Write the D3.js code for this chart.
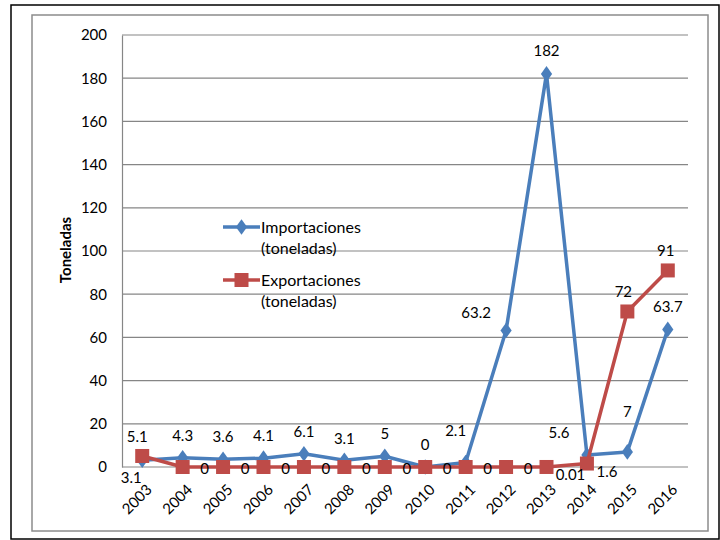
<!DOCTYPE html>
<html>
<head>
<meta charset="utf-8">
<script src="https://cdn.jsdelivr.net/npm/d3@7"></script>
<style>
  html, body { margin: 0; padding: 0; background: #fff; }
  svg { display: block; }
  text { font-family: Lato, "Open Sans", sans-serif; fill: #000; }
</style>
</head>
<body>
<svg id="chart" width="720" height="540"></svg>
<script>
// Años y series (toneladas)
const years = ["2003","2004","2005","2006","2007","2008","2009","2010","2011","2012","2013","2014","2015","2016"];
const importaciones = [3.1, 4.3, 3.6, 4.1, 6.1, 3.1, 5, 0, 2.1, 63.2, 182, 5.6, 7, 63.7];
const exportaciones = [5.1, 0, 0, 0, 0, 0, 0, 0, 0, 0, 0.01, 1.6, 72, 91];
const yTicks = [0, 20, 40, 60, 80, 100, 120, 140, 160, 180, 200];
const seriesNames = [["Importaciones", "(toneladas)"], ["Exportaciones", "(toneladas)"]];

// Label placement for each point: [dx, dy] relative to the marker
const impLabelOffset = [[-11, 17], [0, -22], [0, -22], [0, -22], [0, -22], [0, -22], [0, -22],
                        [0, -22], [-10, -32], [-30, -18], [0, -23], [-28, -22], [0, -40], [0, -23]];
const expLabelOffset = [[-5, -19], [22, 2], [22, 2], [22, 2], [22, 2], [22, 2], [22, 2],
                        [22, 2], [22, 2], [22, 2], [24, 8], [20, 8], [-4, -20], [-2, -20]];

const svg = d3.select("#chart");
const margin = { left: 122, right: 688, top: 35, bottom: 467 };

const x = d3.scaleBand().domain(years).range([margin.left, margin.right]);
const y = d3.scaleLinear().domain([0, 200]).range([margin.bottom, margin.top]);
const cx = d => x(d) + x.bandwidth() / 2;

// Outer frames
svg.append("rect").attr("x", 11).attr("y", 5).attr("width", 708).attr("height", 534)
  .attr("fill", "none").attr("stroke", "#000").attr("stroke-width", 1.5);
svg.append("rect").attr("x", 32).attr("y", 15).attr("width", 676).attr("height", 516)
  .attr("fill", "none").attr("stroke", "#8c8c8c").attr("stroke-width", 1.5);

// Gridlines
svg.append("g").selectAll("line").data(yTicks).join("line")
  .attr("x1", margin.left).attr("x2", margin.right)
  .attr("y1", d => y(d)).attr("y2", d => y(d))
  .attr("stroke", "#868686").attr("stroke-width", 1.2);

// Y axis
const yAxis = d3.axisLeft(y).tickValues(yTicks).tickSize(0).tickPadding(15);
const gy = svg.append("g").attr("transform", `translate(${margin.left},0)`).call(yAxis);
gy.select(".domain").attr("stroke", "#868686").attr("stroke-width", 1.2);
gy.selectAll("text").style("font-size", "15px").style("font-family", "Lato, sans-serif").attr("fill", "#000");

// X axis labels, rotated
const xAxis = d3.axisBottom(x).tickSize(0).tickPadding(0);
const gx = svg.append("g").attr("transform", `translate(0,${margin.bottom})`).call(xAxis);
gx.select(".domain").remove();
gx.selectAll("text")
  .style("font-size", "15px").style("font-family", "Lato, sans-serif").attr("fill", "#000")
  .attr("text-anchor", "end")
  .attr("dy", "0.35em")
  .attr("transform", "translate(7,20) rotate(-45)");

// Y axis title
svg.append("text")
  .attr("transform", "translate(71,250) rotate(-90)")
  .attr("text-anchor", "middle")
  .style("font-size", "15px").style("font-weight", "bold")
  .text("Toneladas");

const blue = "#4a7ebb", red = "#be4b48";
const line = d3.line().x((d, i) => cx(years[i])).y(d => y(d));

// Import series
svg.append("path").datum(importaciones).attr("d", line)
  .attr("fill", "none").attr("stroke", blue).attr("stroke-width", 3.5).attr("stroke-linejoin", "round");
const diamond = d3.symbol().type(d3.symbolDiamond).size(70);
svg.append("g").selectAll("path").data(importaciones).join("path")
  .attr("d", diamond)
  .attr("transform", (d, i) => `translate(${cx(years[i])},${y(d)}) scale(1.25,1)`)
  .attr("fill", blue);

// Export series
svg.append("path").datum(exportaciones).attr("d", line)
  .attr("fill", "none").attr("stroke", red).attr("stroke-width", 3.5).attr("stroke-linejoin", "round");
svg.append("g").selectAll("rect").data(exportaciones).join("rect")
  .attr("x", (d, i) => cx(years[i]) - 7).attr("y", d => y(d) - 7)
  .attr("width", 14).attr("height", 14)
  .attr("fill", red);

// Data labels
const labelFmt = v => String(v);
svg.append("g").selectAll("text").data(importaciones).join("text")
  .attr("x", (d, i) => cx(years[i]) + impLabelOffset[i][0])
  .attr("y", (d, i) => y(d) + impLabelOffset[i][1])
  .attr("text-anchor", "middle").attr("dy", "0.35em")
  .style("font-size", "15px")
  .text(labelFmt);
svg.append("g").selectAll("text").data(exportaciones).join("text")
  .attr("x", (d, i) => cx(years[i]) + expLabelOffset[i][0])
  .attr("y", (d, i) => y(d) + expLabelOffset[i][1])
  .attr("text-anchor", "middle").attr("dy", "0.35em")
  .style("font-size", "15px")
  .text(labelFmt);

// Legend
const legend = svg.append("g");
const legendRows = [
  { name: seriesNames[0], color: blue, marker: "diamond", y: 227 },
  { name: seriesNames[1], color: red, marker: "square", y: 280 }
];
legendRows.forEach(r => {
  legend.append("line").attr("x1", 223).attr("x2", 260).attr("y1", r.y).attr("y2", r.y)
    .attr("stroke", r.color).attr("stroke-width", 3.5);
  if (r.marker === "diamond") {
    legend.append("path").attr("d", diamond)
      .attr("transform", `translate(241.5,${r.y}) scale(1.25,1)`).attr("fill", r.color);
  } else {
    legend.append("rect").attr("x", 234.5).attr("y", r.y - 7).attr("width", 14).attr("height", 14)
      .attr("fill", r.color);
  }
  legend.append("text").attr("x", 261).attr("y", r.y).attr("dy", "0.35em")
    .style("font-size", "16px").text(r.name[0]);
  legend.append("text").attr("x", 261).attr("y", r.y + 21).attr("dy", "0.35em")
    .style("font-size", "16px").text(r.name[1]);
});
</script>
</body>
</html>
